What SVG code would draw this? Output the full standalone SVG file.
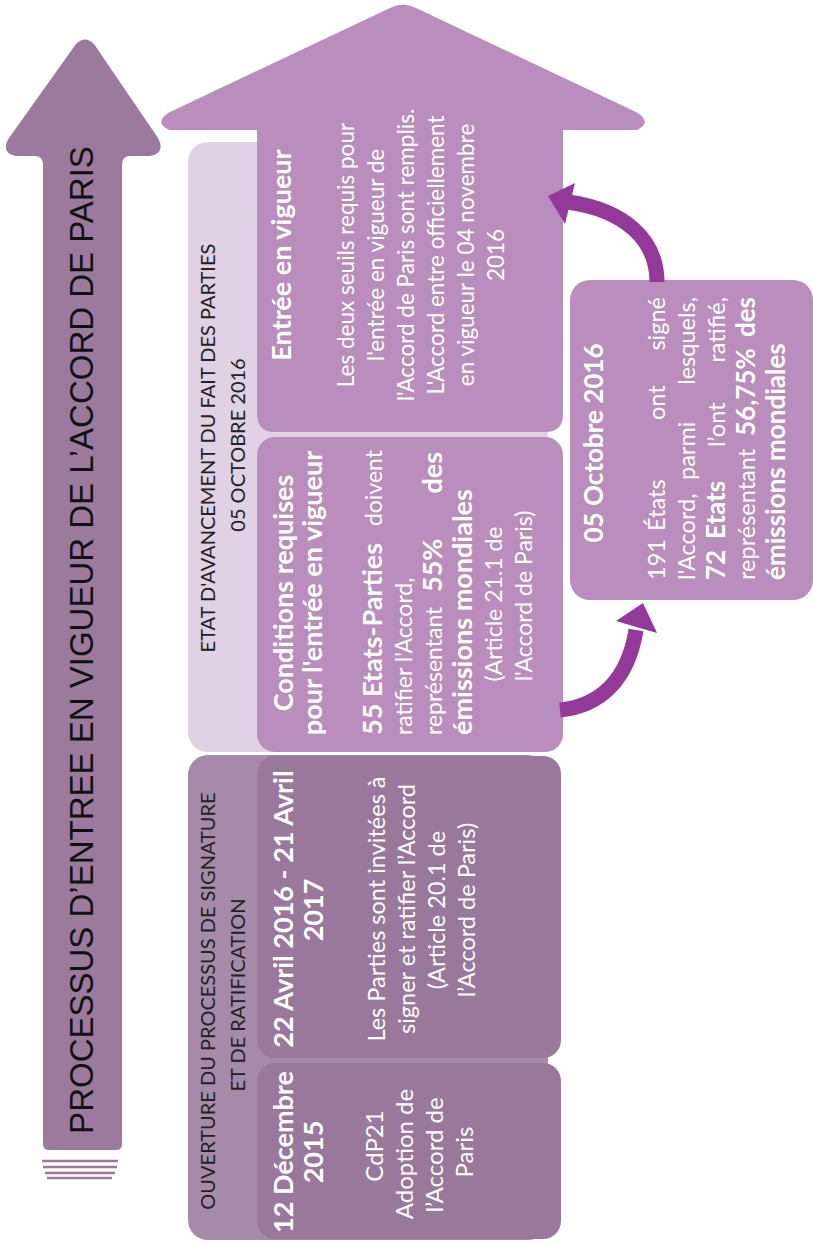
<svg xmlns="http://www.w3.org/2000/svg" width="813" height="1245" viewBox="0 0 813 1245">
<style>
.t{font-family:Lato,"Open Sans",sans-serif;font-size:22.5px;fill:#ffffff}
.s2{font-size:23px}
.s3{font-size:23.5px}
.s4{font-size:24px}
.s5{font-size:23.5px}
.b{font-weight:700;font-size:27px}
.b5{font-weight:700;font-size:26px}
.m{text-anchor:middle}
.e{text-anchor:end}
.h{font-family:Lato,"Open Sans",sans-serif;font-size:20px;font-weight:400;fill:#222222;text-anchor:middle}
.title{font-family:"Liberation Sans",Arial,sans-serif;font-size:33px;fill:#111111;text-anchor:middle}
.lite{fill:#b98dbc}
.dark{fill:#9a789b}
.conn{fill:none;stroke:#92399a;stroke-width:15}
.head{fill:#92399a}
</style>
<rect width="813" height="1245" fill="#ffffff"/>

<g id="title-arrow">
<path fill="#9b7a9d" d="M 76 44 Q 85 35 94 44 L 158 138 Q 166 153 150 156 L 130 156 Q 122 156 122 165 L 122 1144 Q 122 1150 116 1150 L 49 1150 Q 43 1150 43 1144 L 43 165 Q 43 156 35 156 L 16 156 Q 0 153 9 138 Z"/>
<g stroke="#9b7a9d" stroke-width="2.5">
<line x1="42" y1="1161" x2="118" y2="1161"/>
<line x1="43" y1="1167" x2="117" y2="1167"/>
<line x1="45" y1="1173" x2="115" y2="1173"/>
<line x1="47" y1="1178" x2="112" y2="1178"/>
</g>
<text class="title" transform="translate(93,640) rotate(-90)">PROCESSUS D’ENTREE EN VIGUEUR DE L’ACCORD DE PARIS</text>
</g>

<g id="panel-etat">
<rect x="188" y="142" width="360" height="610" rx="20" fill="#e0d1e4"/>
<text class="h" transform="translate(215,448) rotate(-90)">ETAT D'AVANCEMENT DU FAIT DES PARTIES</text>
<text class="h" transform="translate(245,445) rotate(-90)">05 OCTOBRE 2016</text>
</g>

<g id="panel-ouverture">
<rect x="188" y="755" width="360" height="485" rx="20" fill="#a68ba8"/>
<text class="h" transform="translate(215,1001) rotate(-90)">OUVERTURE DU PROCESSUS DE SIGNATURE</text>
<text class="h" transform="translate(245,995) rotate(-90)">ET DE RATIFICATION</text>
</g>

<g id="node-entree">
<path class="lite" d="M 390 8 Q 403 1 416 8 L 636 112 Q 653 122 637 130 L 563 130 L 563 414 Q 563 432 545 432 L 275 432 Q 257 432 257 414 L 257 130 L 169 130 Q 153 122 170 112 Z"/>
<text class="t b m" transform="translate(291,255) rotate(-90)">Entrée en vigueur</text>
<text class="t m" transform="translate(354,255) rotate(-90)">Les deux seuils requis pour</text>
<text class="t m" transform="translate(384,255) rotate(-90)">l'entrée en vigueur de</text>
<text class="t m" transform="translate(414,255) rotate(-90)">l'Accord de Paris sont remplis.</text>
<text class="t m" transform="translate(444,255) rotate(-90)">L'Accord entre officiellement</text>
<text class="t m" transform="translate(474,255) rotate(-90)">en vigueur le 04 novembre</text>
<text class="t m" transform="translate(504,255) rotate(-90)">2016</text>
</g>

<g id="node-conditions">
<rect class="lite" x="257" y="437" width="306" height="315" rx="18"/>
<text class="t b m" transform="translate(293,593) rotate(-90)">Conditions requises</text>
<text class="t b m" transform="translate(322,593) rotate(-90)">pour l'entrée en vigueur</text>
<text class="t b" transform="translate(382,735) rotate(-90)">55 Etats-Parties</text>
<text class="t s2 e" transform="translate(382,450) rotate(-90)">doivent</text>
<text class="t s2" transform="translate(412,735) rotate(-90)">ratifier l'Accord,</text>
<text class="t s2" transform="translate(442,735) rotate(-90)">représentant</text>
<text class="t b" transform="translate(442,592) rotate(-90)">55%</text>
<text class="t b e" transform="translate(442,452) rotate(-90)">des</text>
<text class="t b" transform="translate(472,735) rotate(-90)">émissions mondiales</text>
<text class="t s2 m" transform="translate(502,604) rotate(-90)">(Article 21.1 de</text>
<text class="t s2 m" transform="translate(532,596) rotate(-90)">l'Accord de Paris)</text>
</g>

<g id="node-avril">
<rect class="dark" x="257" y="756" width="304" height="302" rx="18"/>
<text class="t b m" transform="translate(293,909) rotate(-90)">22 Avril 2016 - 21 Avril</text>
<text class="t b m" transform="translate(323,910) rotate(-90)">2017</text>
<text class="t s3 m" transform="translate(385,909) rotate(-90)">Les Parties sont invitées à</text>
<text class="t s3 m" transform="translate(415,909) rotate(-90)">signer et ratifier l’Accord</text>
<text class="t s3 m" transform="translate(445,910) rotate(-90)">(Article 20.1 de</text>
<text class="t s3 m" transform="translate(475,910) rotate(-90)">l’Accord de Paris)</text>
</g>

<g id="node-decembre">
<rect class="dark" x="257" y="1063" width="304" height="176" rx="18"/>
<text class="t b m" transform="translate(293,1152) rotate(-90)">12 Décembre</text>
<text class="t b m" transform="translate(323,1152) rotate(-90)">2015</text>
<text class="t s4 m" transform="translate(383,1146) rotate(-90)">CdP21</text>
<text class="t s4 m" transform="translate(413,1154) rotate(-90)">Adoption de</text>
<text class="t s4 m" transform="translate(443,1155) rotate(-90)">l’Accord de</text>
<text class="t s4 m" transform="translate(473,1152) rotate(-90)">Paris</text>
</g>

<g id="node-octobre">
<rect class="lite" x="570" y="280" width="243" height="320" rx="20"/>
<text class="t b5 m" transform="translate(603,443) rotate(-90)">05 Octobre 2016</text>
<text class="t s5" transform="translate(665,580) rotate(-90)">191</text>
<text class="t s5" transform="translate(665,531) rotate(-90)">États</text>
<text class="t s5" transform="translate(665,420) rotate(-90)">ont</text>
<text class="t s5 e" transform="translate(665,297) rotate(-90)">signé</text>
<text class="t s5" transform="translate(695,580) rotate(-90)">l'Accord,</text>
<text class="t s5" transform="translate(695,480) rotate(-90)">parmi</text>
<text class="t s5 e" transform="translate(695,297) rotate(-90)">lesquels,</text>
<text class="t b5" transform="translate(725,580) rotate(-90)">72</text>
<text class="t b5" transform="translate(725,539) rotate(-90)">Etats</text>
<text class="t s5" transform="translate(725,447) rotate(-90)">l’ont</text>
<text class="t s5 e" transform="translate(725,297) rotate(-90)">ratifié,</text>
<text class="t s5" transform="translate(755,580) rotate(-90)">représentant</text>
<text class="t b5" transform="translate(755,436) rotate(-90)">56,75%</text>
<text class="t b5 e" transform="translate(755,297) rotate(-90)">des</text>
<text class="t b5" transform="translate(785,580) rotate(-90)">émissions mondiales</text>
</g>

<g id="connectors">
<path class="conn" d="M 560 710 C 600 706 628 680 636 630"/>
<polygon class="head" points="643,603 616,621 657,633"/>
<path class="conn" d="M 657 282 C 657 240 625 210 568 202" stroke-width="14"/>
<polygon class="head" points="548,196 575,183 565,224"/>
</g>
</svg>
